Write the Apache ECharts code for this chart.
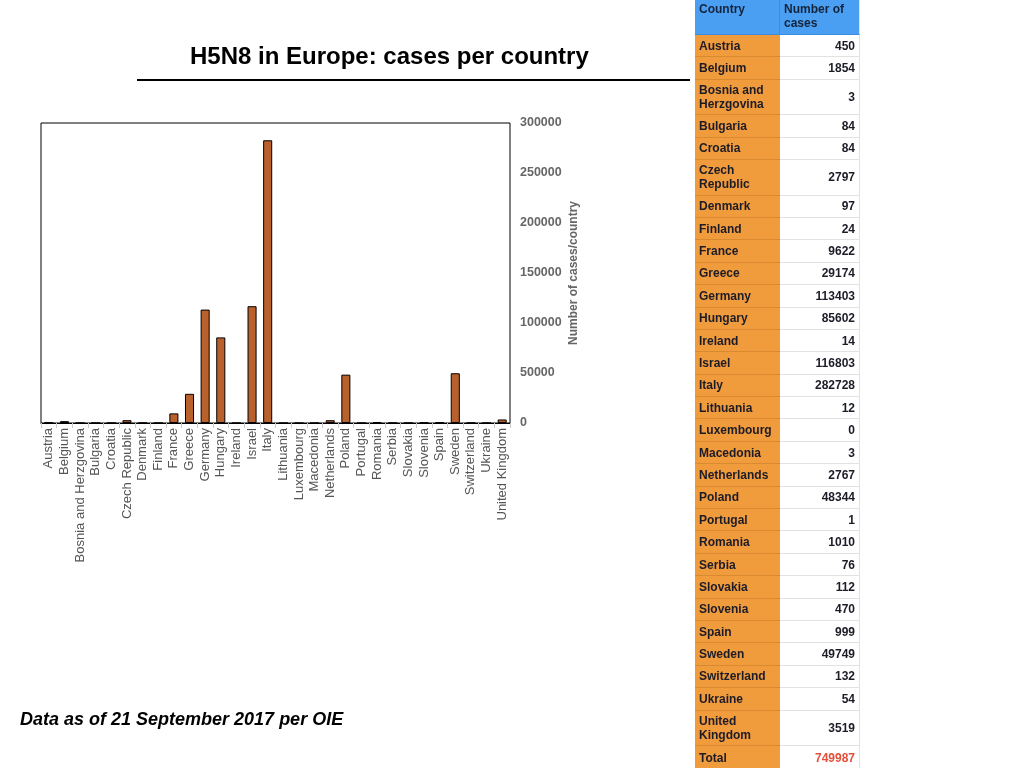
<!DOCTYPE html>
<html>
<head>
<meta charset="utf-8">
<script src="https://cdn.jsdelivr.net/npm/echarts@6/dist/echarts.min.js"></script>
<style>
  html, body { margin: 0; padding: 0; background: #fff; }
  #container { position: absolute; left: 0; top: 0; width: 1024px; height: 768px; }
  #table { position: absolute; left: 695px; top: 0; width: 165px; font-family: "Liberation Sans", Arial, sans-serif; font-weight: bold; font-size: 12px; color: #1c1c28; }
  .row { display: flex; box-sizing: border-box; }
  .row .c { width: 85px; background: #f09b3c; border-bottom: 1px solid #d98a30; padding: 0 4px; box-sizing: border-box; display: flex; align-items: center; line-height: 14px; }
  .row .n { width: 80px; background: #fff; border-bottom: 1px solid #e2e2e2; border-right: 1px solid #e2e2e2; padding: 0 4px; box-sizing: border-box; display: flex; align-items: center; justify-content: flex-end; }
  .head .c, .head .n { background: #4a9ff2; border-bottom: 1px solid #3a8ee0; color: #14233a; align-items: flex-start; padding-top: 2px; justify-content: flex-start; }
  .head .c { border-right: 1px solid #3a8ee0; }
</style>
</head>
<body>
<div id="container"></div>
<div id="table"></div>
<script>
//数据
var countries = ['Austria', 'Belgium', 'Bosnia and Herzgovina', 'Bulgaria', 'Croatia', 'Czech Republic', 'Denmark', 'Finland', 'France', 'Greece', 'Germany', 'Hungary', 'Ireland', 'Israel', 'Italy', 'Lithuania', 'Luxembourg', 'Macedonia', 'Netherlands', 'Poland', 'Portugal', 'Romania', 'Serbia', 'Slovakia', 'Slovenia', 'Spain', 'Sweden', 'Switzerland', 'Ukraine', 'United Kingdom'];
var cases = [450, 1854, 3, 84, 84, 2797, 97, 24, 9622, 29174, 113403, 85602, 14, 116803, 282728, 12, 0, 3, 2767, 48344, 1, 1010, 76, 112, 470, 999, 49749, 132, 54, 3519];
var totalCases = 749987;
var yTicks = [0, 50000, 100000, 150000, 200000, 250000, 300000];

//右边的表格
var tableHtml = '<div class="row head" style="height:35px"><div class="c">Country</div><div class="n" style="line-height:14px">Number of cases</div></div>';
for (var i = 0; i < countries.length; i++) {
    var tall = countries[i].length > 13;//名字长的要两行
    tableHtml += '<div class="row" style="height:' + (tall ? 35.5 : 22.4) + 'px"><div class="c">' + countries[i] + '</div><div class="n">' + cases[i] + '</div></div>';
}
tableHtml += '<div class="row" style="height:24px"><div class="c">Total</div><div class="n" style="color:#e2503a">' + totalCases + '</div></div>';
document.getElementById('table').innerHTML = tableHtml;

//柱状图
var myChart = echarts.init(document.getElementById('container'));
var option = {
    backgroundColor: '#fff',
    textStyle: { fontFamily: 'Liberation Sans' },
    title: {
        text: 'H5N8 in Europe: cases per country',
        left: 185,
        top: 40,
        textStyle: { fontSize: 24, fontWeight: 'bold', color: '#000', fontFamily: 'Liberation Sans' }
    },
    graphic: [
        {
            type: 'line',
            shape: { x1: 137, y1: 80, x2: 690, y2: 80 },
            style: { stroke: '#000', lineWidth: 2 }
        },
        {
            type: 'text',
            left: 20,
            top: 711,
            style: { text: 'Data as of 21 September 2017 per OIE', fill: '#000', font: 'italic bold 18px "Liberation Sans"' }
        }
    ],
    grid: {
        left: 41,
        top: 123,
        width: 469,
        height: 300,
        show: true,
        borderColor: '#000',
        borderWidth: 1,
        containLabel: false
    },
    xAxis: {
        type: 'category',
        data: countries,
        axisLine: { show: true, lineStyle: { color: '#000', width: 1 } },
        axisTick: { show: true, length: 5, lineStyle: { color: '#ccc' } },
        axisLabel: { interval: 0, rotate: 90, color: '#555', fontSize: 13, margin: 5 }
    },
    yAxis: {
        type: 'value',
        position: 'right',
        min: yTicks[0],
        max: yTicks[yTicks.length - 1],
        interval: yTicks[1] - yTicks[0],
        name: 'Number of cases/country',
        nameLocation: 'middle',
        nameRotate: 90,
        nameGap: 58,
        nameTextStyle: { color: '#666', fontSize: 12, fontWeight: 'bold' },
        axisLine: { show: false },
        axisTick: { show: false },
        splitLine: { show: false },
        axisLabel: {
            color: '#666', fontSize: 12.5, fontWeight: 'bold', margin: 10,
            formatter: function (v) { return String(v); }
        }
    },
    series: [
        {
            name: 'cases',
            type: 'bar',
            data: cases,
            barWidth: '58%',
            itemStyle: { color: '#b8612c', borderColor: '#000', borderWidth: 1 }
        }
    ]
};
myChart.setOption(option);
</script>
</body>
</html>
